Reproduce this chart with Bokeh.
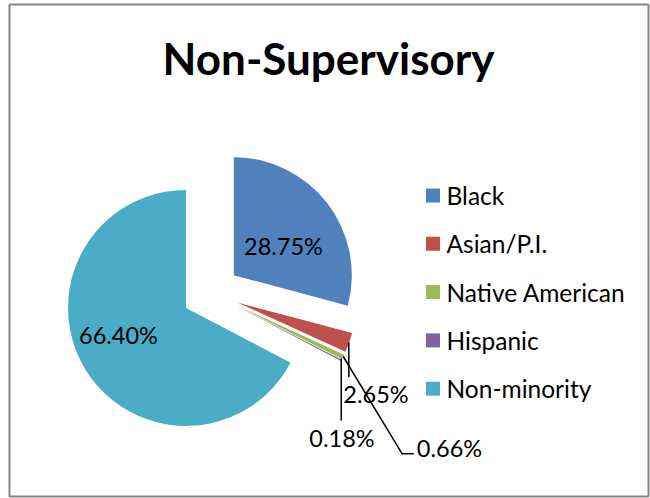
import math
from bokeh.plotting import figure
from bokeh.models import Range1d, ColumnDataSource
from bokeh.core.properties import value
from bokeh.embed import file_html
from bokeh.resources import INLINE

# ---- data ----
title = "Non-Supervisory"
categories = ["Black", "Asian/P.I.", "Native American", "Hispanic", "Non-minority"]
percents = [28.75, 2.65, 0.66, 0.18, 66.40]
colors = ["#4F81BD", "#C0504D", "#9BBB59", "#8064A2", "#4BACC6"]
labels = ["28.75%", "2.65%", "0.66%", "0.18%", "66.40%"]

# ---- layout (pixel-like data coords, y up) ----
W, H = 650, 498
FONT = "Lato"

def py(y_pix):
    return H - y_pix

p = figure(width=W, height=H, output_backend="svg", toolbar_location=None,
           x_range=Range1d(0, W), y_range=Range1d(0, H),
           min_border=0, match_aspect=False)
p.axis.visible = False
p.grid.visible = False
p.outline_line_color = None
p.background_fill_color = "white"
p.border_fill_color = "white"

# chart frame
p.quad(left=[9], right=[648], bottom=[py(496)], top=[py(4)],
       fill_color=None, line_color="#868686", line_width=2)

# pie geometry
cx, cy = 210.3, py(292.4)
radius = 118
explode = 29
total = sum(percents)

xs, ys, starts, ends, cols = [], [], [], [], []
acc = 0.0
for v, c in zip(percents, colors):
    t1 = acc / total * 2 * math.pi
    acc += v
    t2 = acc / total * 2 * math.pi
    bis = (t1 + t2) / 2
    xs.append(cx + explode * math.sin(bis))
    ys.append(cy + explode * math.cos(bis))
    starts.append(math.pi / 2 - t2)
    ends.append(math.pi / 2 - t1)
    cols.append(c)

src = ColumnDataSource(dict(x=xs, y=ys, start=starts, end=ends, color=cols))
p.wedge(x="x", y="y", radius=radius, start_angle="start", end_angle="end",
        fill_color="color", line_color=None, source=src)

# title
p.text(x=[328], y=[py(57)], text=[title], text_font=value(FONT),
       text_font_size="44px", text_font_style="bold", text_align="center",
       text_baseline="middle", text_color="black")

# data labels
lab_x = [283, 375.5, 449, 341.5, 118]
lab_y = [py(245), py(393), py(447), py(437), py(334)]
p.text(x=lab_x, y=lab_y, text=labels, text_font=value(FONT),
       text_font_size="23.5px", text_align="center", text_baseline="middle",
       text_color="black")

# leader lines
p.line([348.3, 348.3], [py(341.7), py(376.7)], line_color="black", line_width=1.5)
p.line([340.7, 340.7], [py(358), py(420)], line_color="black", line_width=1.5)
p.line([342.7, 401.7, 413.3], [py(356), py(453.3), py(453.3)], line_color="black", line_width=1.5)

# legend
leg_y = [py(195 + 48.3 * i) for i in range(len(categories))]
p.rect(x=[432.5] * len(categories), y=leg_y, width=14, height=14,
       fill_color=colors, line_color=None)
p.text(x=[446] * len(categories), y=leg_y, text=categories, text_font=value(FONT),
       text_font_size="24.5px", text_align="left", text_baseline="middle",
       text_color="black")

open("out.html", "w").write(file_html(p, INLINE))
